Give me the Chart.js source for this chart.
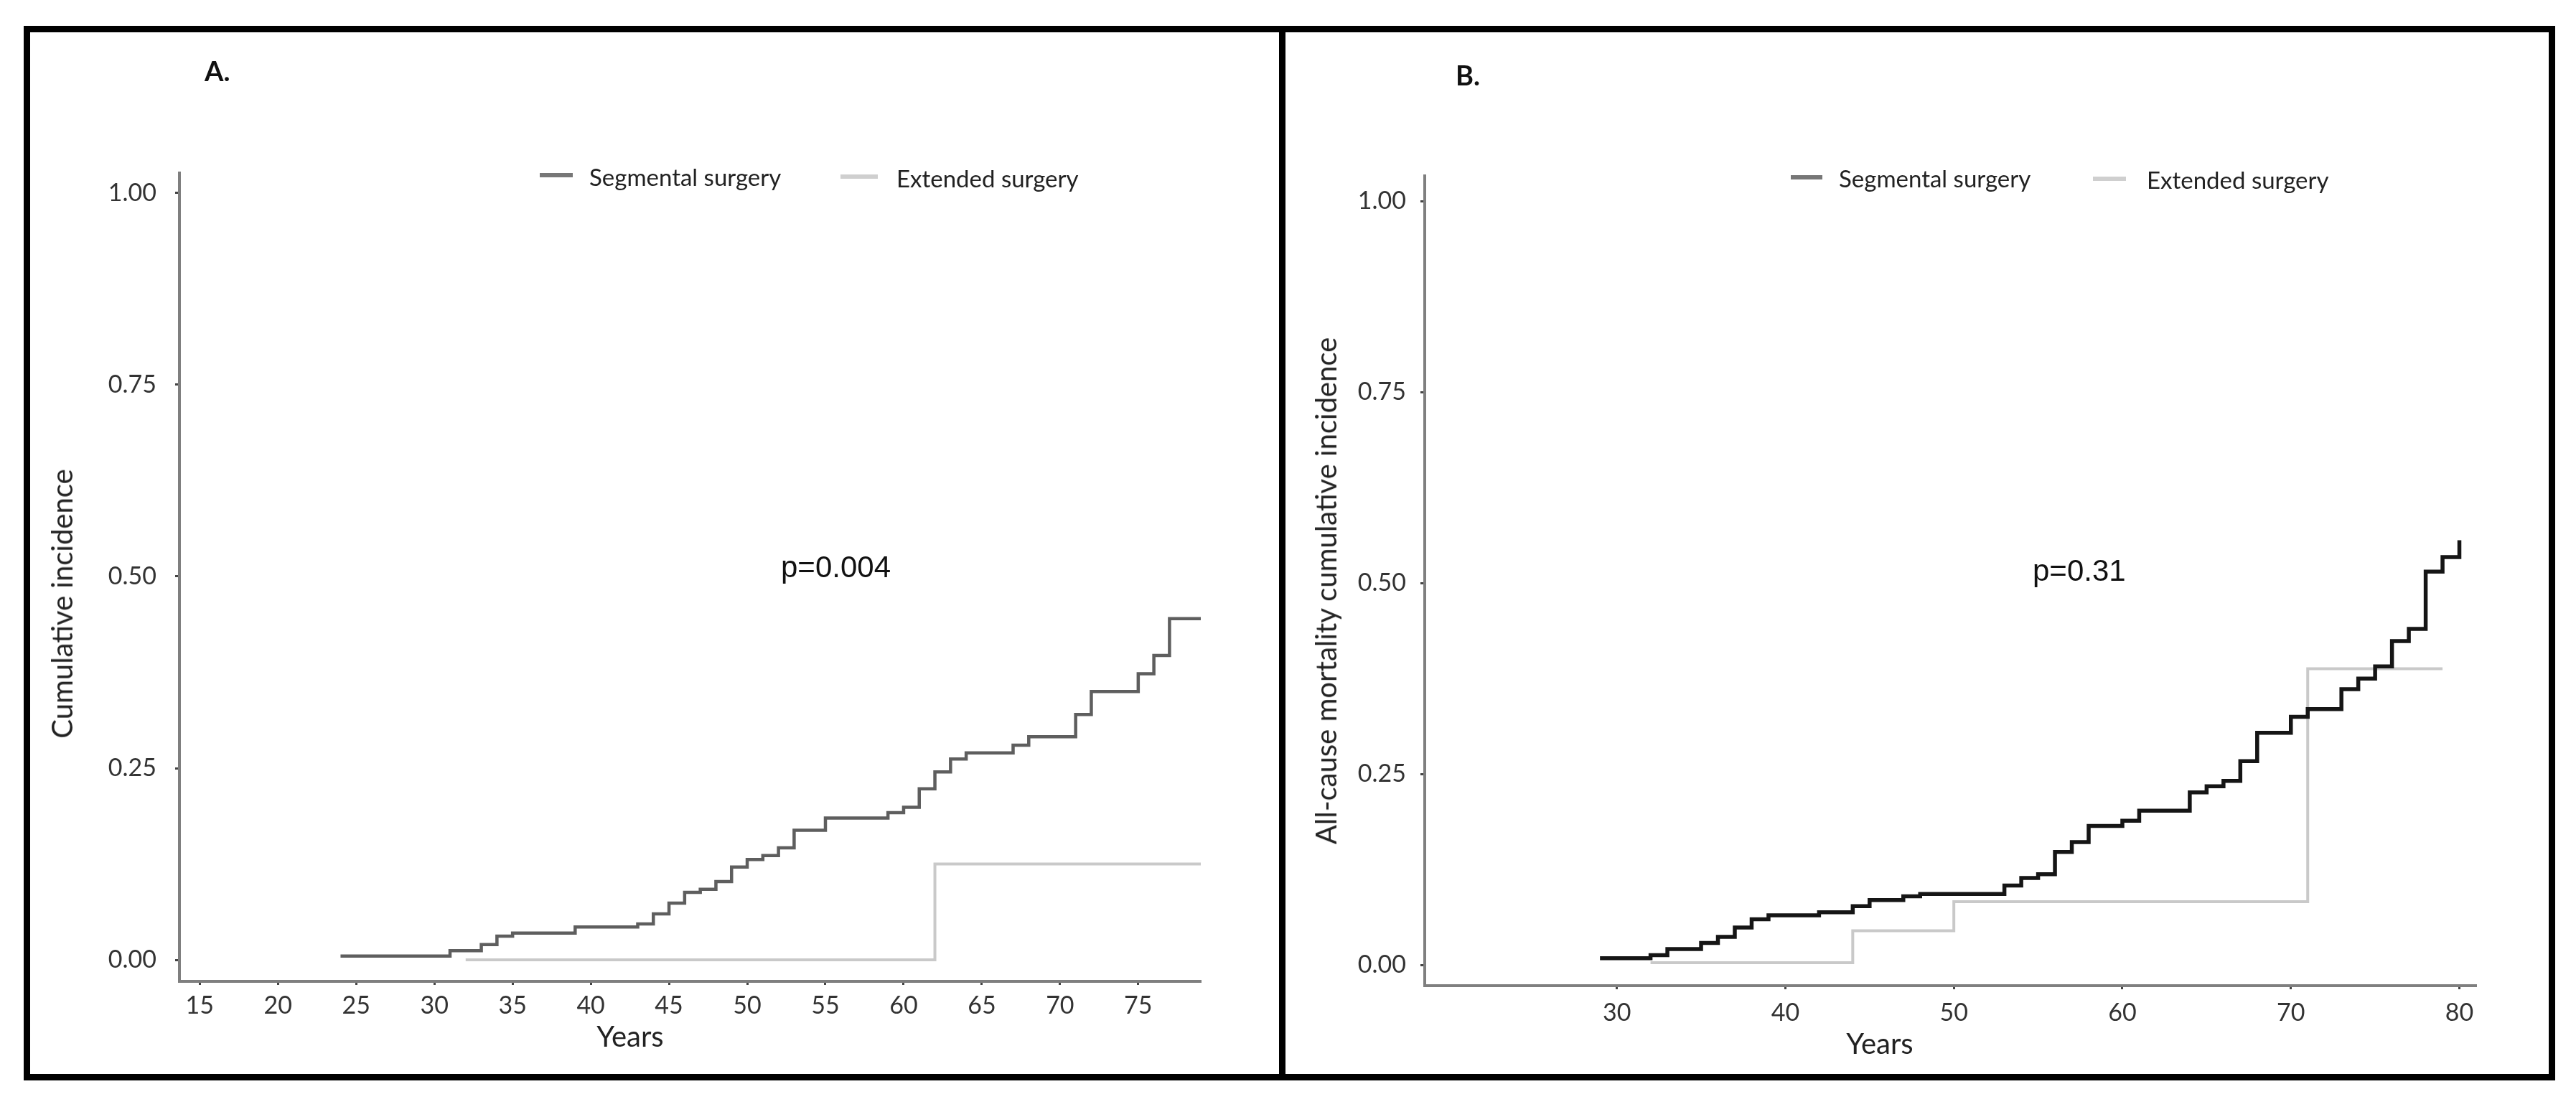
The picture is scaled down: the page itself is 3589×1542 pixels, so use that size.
<!DOCTYPE html>
<html>
<head>
<meta charset="utf-8">
<script src="https://cdn.jsdelivr.net/npm/chart.js@4.4.1/dist/chart.umd.min.js"></script>
<style>
body{margin:0;background:#fff;width:3589px;height:1542px;position:relative;overflow:hidden;font-family:Lato,sans-serif;}
.frame{position:absolute;border:9px solid #000;box-sizing:border-box;z-index:2;}
canvas{position:absolute;top:0;}
.txt{position:absolute;white-space:nowrap;color:#222;line-height:1;}
.key{position:absolute;height:6px;}
.ytitle{position:absolute;white-space:nowrap;color:#222;font-size:40px;line-height:1;transform:translate(-50%,-50%) rotate(-90deg);}
.xtitle{position:absolute;white-space:nowrap;color:#222;font-size:40px;line-height:1;transform:translate(-50%,-50%);}
.pval{position:absolute;white-space:nowrap;color:#111;font-family:"Liberation Sans",Arial,sans-serif;font-size:42px;line-height:1;transform:translateY(-50%);}
.lab{position:absolute;font-weight:bold;font-size:38px;color:#111;line-height:1;transform:translateY(-50%);}
.leg{position:absolute;font-size:33px;color:#222;line-height:1;transform:translateY(-50%);white-space:nowrap;}
</style>
</head>
<body>
<div class="frame" style="left:33px;top:36px;width:1758px;height:1469px;"></div>
<div class="frame" style="left:1782px;top:36px;width:1778px;height:1469px;"></div>

<canvas id="chartA" width="1786" height="1542" style="left:0px;"></canvas>
<canvas id="chartB" width="1803" height="1542" style="left:1786px;"></canvas>

<!-- panel A text -->
<div class="lab" style="left:285px;top:98px;">A.</div>
<div class="key" style="left:752px;top:241px;width:46px;background:#777;"></div>
<div class="leg" style="left:821px;top:246px;">Segmental surgery</div>
<div class="key" style="left:1171px;top:243px;width:52px;background:#cfcfcf;"></div>
<div class="leg" style="left:1249px;top:248px;">Extended surgery</div>
<div class="pval" style="left:1088px;top:790px;">p=0.004</div>
<div class="ytitle" style="left:86px;top:841px;">Cumulative incidence</div>
<div class="xtitle" style="left:878px;top:1443px;">Years</div>

<!-- panel B text -->
<div class="lab" style="left:2028px;top:104px;">B.</div>
<div class="key" style="left:2495px;top:244px;width:44px;background:#777;"></div>
<div class="leg" style="left:2562px;top:248px;">Segmental surgery</div>
<div class="key" style="left:2916px;top:246px;width:46px;background:#cfcfcf;"></div>
<div class="leg" style="left:2991px;top:250px;">Extended surgery</div>
<div class="pval" style="left:2832px;top:795px;">p=0.31</div>
<div class="ytitle" style="left:1847px;top:823px;">All-cause mortality cumulative incidence</div>
<div class="xtitle" style="left:2619px;top:1453px;">Years</div>

<script>
// Panel A: cumulative incidence by age
const segA_years=[24,31,33,34,35,39,43,44,45,46,47,48,49,50,51,52,53,55,59,60,61,62,63,64,67,68,71,72,75,76,77,79];
const segA_inc=[0.005,0.012,0.020,0.031,0.035,0.043,0.047,0.060,0.074,0.088,0.092,0.102,0.121,0.131,0.136,0.146,0.169,0.185,0.192,0.199,0.223,0.245,0.262,0.270,0.280,0.291,0.320,0.350,0.373,0.397,0.445,0.445];
const extA_years=[32,62,79];
const extA_inc=[0.0,0.125,0.125];
const xTicksA=[15,20,25,30,35,40,45,50,55,60,65,70,75];

// Panel B: all-cause mortality
const segB_years=[29,32,33,35,36,37,38,39,42,44,45,47,48,53,54,55,56,57,58,60,61,64,65,66,67,68,70,71,73,74,75,76,77,78,79,80];
const segB_inc=[0.009,0.013,0.021,0.029,0.037,0.049,0.060,0.065,0.069,0.077,0.085,0.090,0.093,0.104,0.114,0.119,0.148,0.161,0.182,0.189,0.202,0.226,0.234,0.241,0.267,0.304,0.325,0.335,0.361,0.375,0.391,0.424,0.440,0.515,0.534,0.556];
const extB_years=[32,44,50,71,79];
const extB_inc=[0.003,0.045,0.083,0.388,0.388];
const xTicksB=[30,40,50,60,70,80];

const yTicks=[0,0.25,0.5,0.75,1];

function pts(xs,ys){ return xs.map((x,i)=>({x:x,y:ys[i]})); }

function step(label,data,color,width){
  return {label:label,data:data,borderColor:color,borderWidth:width,stepped:'before',pointRadius:0,fill:false,tension:0};
}

function makeChart(id,datasets,cfg){
  const ctx=document.getElementById(id).getContext('2d');
  return new Chart(ctx,{
    type:'line',
    data:{datasets:datasets},
    options:{
      responsive:false, animation:false, devicePixelRatio:1,
      layout:{padding:{left:0,top:cfg.top,right:cfg.right,bottom:0}},
      plugins:{legend:{display:false},tooltip:{enabled:false}},
      scales:{
        x:{type:'linear',min:cfg.xmin,max:cfg.xmax,
          afterBuildTicks:s=>{ s.ticks=cfg.xticks.map(v=>({value:v})); },
          afterFit:s=>{ s.height=cfg.xh; },
          grid:{display:true,drawOnChartArea:false,drawTicks:true,tickLength:5,tickColor:'#444',tickWidth:3},
          border:{display:true,color:'#7f7f7f',width:4},
          ticks:{font:{family:'Lato',size:34},color:'#333',padding:cfg.xpad,maxRotation:0,autoSkip:false}
        },
        y:{type:'linear',min:cfg.ymin,max:cfg.ymax,
          afterBuildTicks:s=>{ s.ticks=yTicks.map(v=>({value:v})); },
          afterFit:s=>{ s.width=cfg.yw; },
          grid:{display:true,drawOnChartArea:false,drawTicks:true,tickLength:6,tickColor:'#444',tickWidth:3},
          border:{display:true,color:'#7f7f7f',width:4},
          ticks:{font:{family:'Lato',size:34},color:'#333',padding:cfg.ypad,callback:v=>v.toFixed(2)}
        }
      }
    }
  });
}

makeChart('chartA',[
  step('Segmental surgery',pts(segA_years,segA_inc),'#5e5e5e',4.5),
  step('Extended surgery',pts(extA_years,extA_inc),'#c9c9c9',4)
],{top:241,right:113,xh:175,yw:250,xmin:13.7,xmax:79,ymin:-0.028,ymax:1.026,xticks:xTicksA,xpad:9,ypad:26});

makeChart('chartB',[
  step('Segmental surgery',pts(segB_years,segB_inc),'#151515',5.5),
  step('Extended surgery',pts(extB_years,extB_inc),'#c9c9c9',4)
],{top:245,right:139,xh:169,yw:199,xmin:18.6,xmax:81,ymin:-0.027,ymax:1.033,xticks:xTicksB,xpad:13,ypad:20});
</script>
</body>
</html>
